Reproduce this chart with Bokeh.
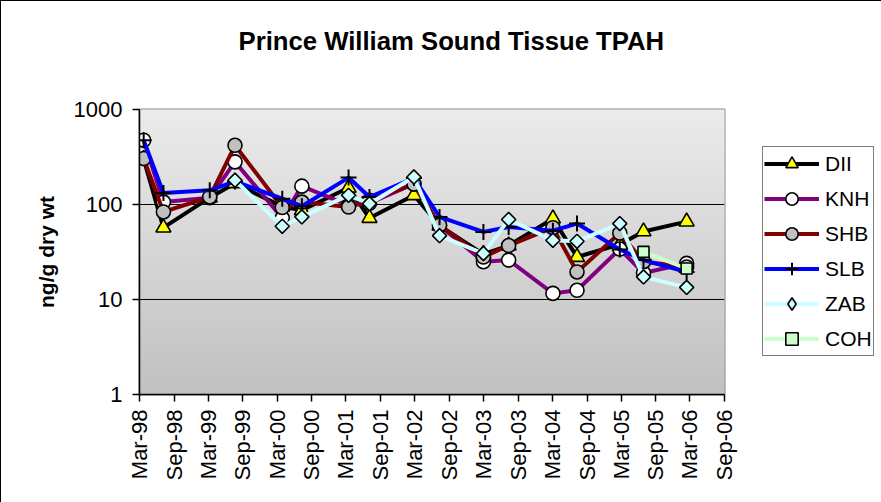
import numpy as np
import pandas as pd
from math import pi
from bokeh.plotting import figure
from bokeh.models import (FixedTicker, DatetimeTickFormatter, PrintfTickFormatter,
                          Legend, LegendItem, Title, Range1d)
from bokeh.embed import file_html
from bokeh.resources import INLINE

title_text = "Prince William Sound Tissue TPAH"
y_label = "ng/g dry wt"

tick_labels = ["Mar-98", "Sep-98", "Mar-99", "Sep-99", "Mar-00", "Sep-00",
               "Mar-01", "Sep-01", "Mar-02", "Sep-02", "Mar-03", "Sep-03",
               "Mar-04", "Sep-04", "Mar-05", "Sep-05", "Mar-06", "Sep-06"]

sample_dates = ["1998-03-23", "1998-07-06", "1999-03-09", "1999-07-21",
                "2000-03-28", "2000-07-10", "2001-03-15", "2001-07-04",
                "2002-02-25", "2002-07-11", "2003-03-01", "2003-07-13",
                "2004-03-04", "2004-07-10", "2005-02-22", "2005-06-28",
                "2006-02-12"]

nan = float("nan")
DII = [300, 57, 118, 167, 95, 87, 150, 72, 125, 60, 30, 37, 71, 28, 38, 52, 66]
KNH = [475, 106, 118, 281, 72, 156, 98, 103, 165, 60, 25, 26, 11.6, 12.5, 34, 19, 24]
SHB = [305, 83.5, 120, 420, 93, 106, 94, 111, 164, 60.5, 28, 37, 57, 19.5, 50, 25, 22]
SLB = [475, 132, 141, 175, 115, 96, 192, 120, 190, 74, 51.5, 58, 53, 63, 33.6, 26, 19.5]
ZAB = [nan, nan, nan, 180, 59, 74, 125, 102, 195, 47, 30.5, 69.5, 42, 41, 63, 17.3, 13.4]
COH = [nan] * 15 + [31.7, 21.2]

series_names = ["DII", "KNH", "SHB", "SLB", "ZAB", "COH"]
series_values = [DII, KNH, SHB, SLB, ZAB, COH]

FONT = "Liberation Sans"

x = pd.to_datetime(sample_dates)
tick_dates = pd.to_datetime(tick_labels, format="%b-%y")
x0, x1 = tick_dates[0], tick_dates[-1]

p = figure(frame_width=585, frame_height=285,
           x_axis_type="datetime", y_axis_type="log",
           x_range=Range1d(x0, x1), y_range=Range1d(1, 1000),
           output_backend="svg", toolbar_location=None,
           min_border_left=138, min_border_right=156,
           min_border_top=108, min_border_bottom=108)
p.styles = {"border-left": "1px solid black", "border-top": "1px solid black",
            "border-right": "1px solid black"}
p.background_fill_color = "white"
p.border_fill_color = "white"
p.outline_line_color = "#808080"
p.outline_line_width = 2

# gradient background (style only)
n = 90
edges = np.logspace(0, 3, n + 1)
cols = []
for i in range(n):
    t = (i + 0.5) / n
    g = int(round(192 + (235 - 192) * t))
    cols.append("#%02x%02x%02x" % (g, g, g))
p.quad(left=[x0] * n, right=[x1] * n, bottom=edges[:-1], top=edges[1:],
       fill_color=cols, line_color=cols, line_width=1, level="image")

# axes
p.xaxis.ticker = FixedTicker(ticks=[t.value / 1e6 for t in tick_dates])
fmt = "%b-%y"
p.xaxis.formatter = DatetimeTickFormatter(
    milliseconds=fmt, seconds=fmt, minsec=fmt, minutes=fmt, hourmin=fmt,
    hours=fmt, days=fmt, months=fmt, years=fmt)
p.xaxis.major_label_orientation = pi / 2
p.yaxis.ticker = FixedTicker(ticks=[1, 10, 100, 1000])
p.yaxis.formatter = PrintfTickFormatter(format="%d")
for ax in (p.xaxis, p.yaxis):
    ax.major_tick_out = 7
    ax.major_tick_in = 0
    ax.minor_tick_out = 0
    ax.minor_tick_in = 0
    ax.axis_line_color = "black"
    ax.axis_line_width = 1.5
    ax.major_tick_line_color = "black"
    ax.major_tick_line_width = 1.5
    ax.major_label_text_font = FONT
    ax.major_label_text_font_size = "22px"
    ax.major_label_text_color = "black"
p.xaxis.major_label_standoff = 8
p.yaxis.major_label_standoff = 10
p.yaxis.axis_label = y_label
p.yaxis.axis_label_text_font = FONT
p.yaxis.axis_label_text_font_size = "21px"
p.yaxis.axis_label_text_font_style = "bold"
p.yaxis.axis_label_text_color = "black"
p.yaxis.axis_label_standoff = 13

p.xgrid.visible = False
p.ygrid.ticker = FixedTicker(ticks=[10, 100])
p.ygrid.grid_line_color = "black"
p.ygrid.grid_line_width = 1

line_colors = ["black", "#800080", "#800000", "#0000FF", "#CCFFFF", "#CCFFCC"]
markers = ["triangle", "circle", "circle", "cross", "square", "square"]
fills = ["#FFFF00", "white", "#C0C0C0", None, "#CCFFFF", "#CCFFCC"]
sizes = [15, 14, 14, 16, 10, 11]
angles = [0, 0, 0, 0, pi / 4, 0]

items = []
for name, vals, lc, mk, fc, sz, ang in zip(series_names, series_values, line_colors,
                                          markers, fills, sizes, angles):
    lr = p.line(x, vals, line_color=lc, line_width=4)
    sr = p.scatter(x, vals, marker=mk, size=sz, angle=ang,
                   fill_color=fc if fc else None, line_color="black",
                   line_width=1.6 if mk != "cross" else 2)
    leg_r = sr
    if ang != 0:
        # legend-only diamond (rotated markers are drawn unrotated in legends)
        leg_r = p.scatter([x0], [nan], marker="diamond", size=sz,
                          fill_color=fc, line_color="black", line_width=1.6)
    items.append(LegendItem(label=name, renderers=[lr, leg_r]))

legend = Legend(items=items, location=(38, 38))
legend.label_text_font = FONT
legend.label_text_font_size = "21px"
legend.label_text_color = "black"
legend.glyph_width = 55
legend.glyph_height = 31
legend.label_height = 12
legend.spacing = 4
legend.padding = 1
legend.label_standoff = 6
legend.border_line_color = "black"
legend.border_line_width = 1
legend.background_fill_color = "white"
legend.background_fill_alpha = 1
p.add_layout(legend, "right")

# spacer then title in the top panel
p.add_layout(Title(text=" ", text_font_size="34px"), "above")
p.add_layout(Title(text=title_text, text_font=FONT, text_font_size="25.7px",
                   text_font_style="bold", text_color="black",
                   align="left", offset=99), "above")

open("out.html", "w").write(file_html(p, INLINE))
